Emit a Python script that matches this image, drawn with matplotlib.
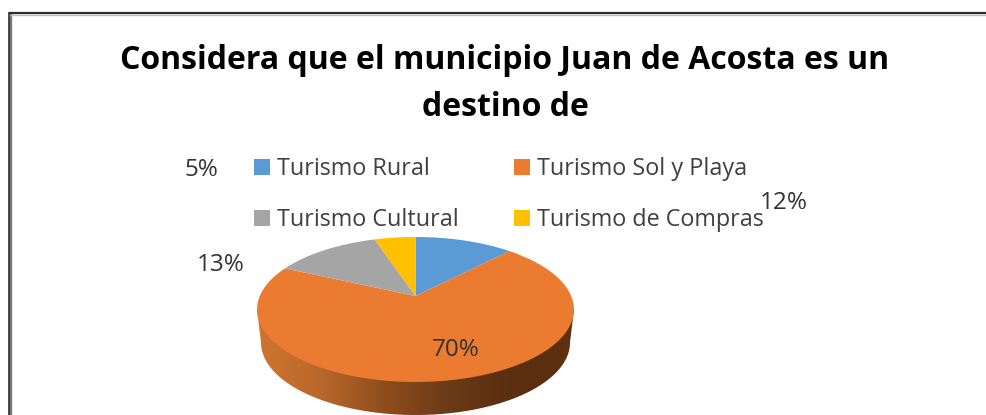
import numpy as np
import matplotlib
matplotlib.use("Agg")
import matplotlib.pyplot as plt
from matplotlib.colors import LinearSegmentedColormap
from matplotlib.patches import Polygon
from matplotlib.transforms import Transform

categories = ["Turismo Rural", "Turismo Sol y Playa", "Turismo Cultural", "Turismo de Compras"]
values = [12, 70, 13, 5]
colors = ["#5B9BD5", "#EA7B30", "#A5A5A5", "#FFC000"]
title = "Considera que el municipio Juan de Acosta es un\ndestino de"

CX, CY, A, B, K = 415.5, 296.0, 155.7, 70.0, 0.186
DEPTH, SHRINK = 33.0, 0.975


class Tilt(Transform):
    """Projective view of the unit-circle pie, giving the tilted 3D look."""
    input_dims = output_dims = 2

    def transform_non_affine(self, xy):
        xy = np.asarray(xy, float)
        d = 1 + K * xy[:, 1]
        return np.column_stack([CX + A * xy[:, 0] / d, CY - B * xy[:, 1] / d])


fig = plt.figure(figsize=(9.87, 4.15), dpi=100, facecolor="white")
ax = fig.add_axes([0, 0, 1, 1])
wedges, _ = ax.pie(values, colors=colors, startangle=90, counterclock=False)
tilt = Tilt()
for w in wedges:
    w.set_transform(tilt + ax.transData)
    w.set_linewidth(0)
    w.set_zorder(3)
ax.set_aspect("auto")
ax.axis("off")

# side wall of the pie with its horizontal shading
a0 = np.arcsin(K)
t = np.linspace(np.pi + a0, 2 * np.pi - a0, 300)
rim = tilt.transform_non_affine(np.column_stack([np.cos(t), np.sin(t)]))
low = rim.copy()
low[:, 0] = CX + (rim[:, 0] - CX) * SHRINK
low[:, 1] = rim[:, 1] + DEPTH
outline = np.vstack([rim[0], low, rim[-1]])
cmap = LinearSegmentedColormap.from_list(
    "wall", ["#D0742F", "#B9682B", "#8F4D1E", "#6C3A16", "#5A2E10", "#5F3011"])
img = ax.imshow(np.linspace(0, 1, 256)[None, :], cmap=cmap, aspect="auto",
                extent=(CX - A * 1.02, CX + A * 1.02, 420, 300), zorder=2)
clip = Polygon(outline, closed=True, transform=ax.transData, facecolor="none", edgecolor="none")
ax.add_patch(clip)
img.set_clip_path(clip)
ax.set_xlim(0, 987)
ax.set_ylim(415, 0)

# outer frame
ax.plot([10, 10], [415, 13.5], color="#7a7a7a", lw=2.4, solid_capstyle="butt", zorder=1)
ax.plot([9, 987], [15, 15], color="#bdbdbd", lw=1.0, solid_capstyle="butt", zorder=1)
ax.plot([9.4, 9.4], [415, 12], color="#333333", lw=1.2, solid_capstyle="butt", zorder=1)
ax.plot([9, 987], [13, 13], color="#2b2b2b", lw=1.6, solid_capstyle="butt", zorder=1)

FONT = "Open Sans"
ax.text(505, 84, title, ha="center", va="center", fontsize=23, fontweight="bold",
        family=FONT, color="black", linespacing=1.55)

order = [0, 2, 1, 3]
ax.legend([wedges[i] for i in order], [categories[i] for i in order],
          ncol=2, loc="upper left", bbox_to_anchor=(247, 150), bbox_transform=ax.transData,
          frameon=False, prop={"family": FONT, "size": 16.8}, labelcolor="#404040",
          handlelength=0.69, handleheight=0.69, handletextpad=0.3,
          columnspacing=2.35, labelspacing=1.15, borderpad=0.3, borderaxespad=0)

label_pos = [(784, 203), (456, 350), (221, 265), (201, 170)]
for v, (x, y) in zip(values, label_pos):
    ax.text(x, y, f"{v}%", ha="center", va="center", fontsize=17.5, family=FONT,
            color="#333333", zorder=5)

fig.savefig("out.png", dpi=100, facecolor="white")
